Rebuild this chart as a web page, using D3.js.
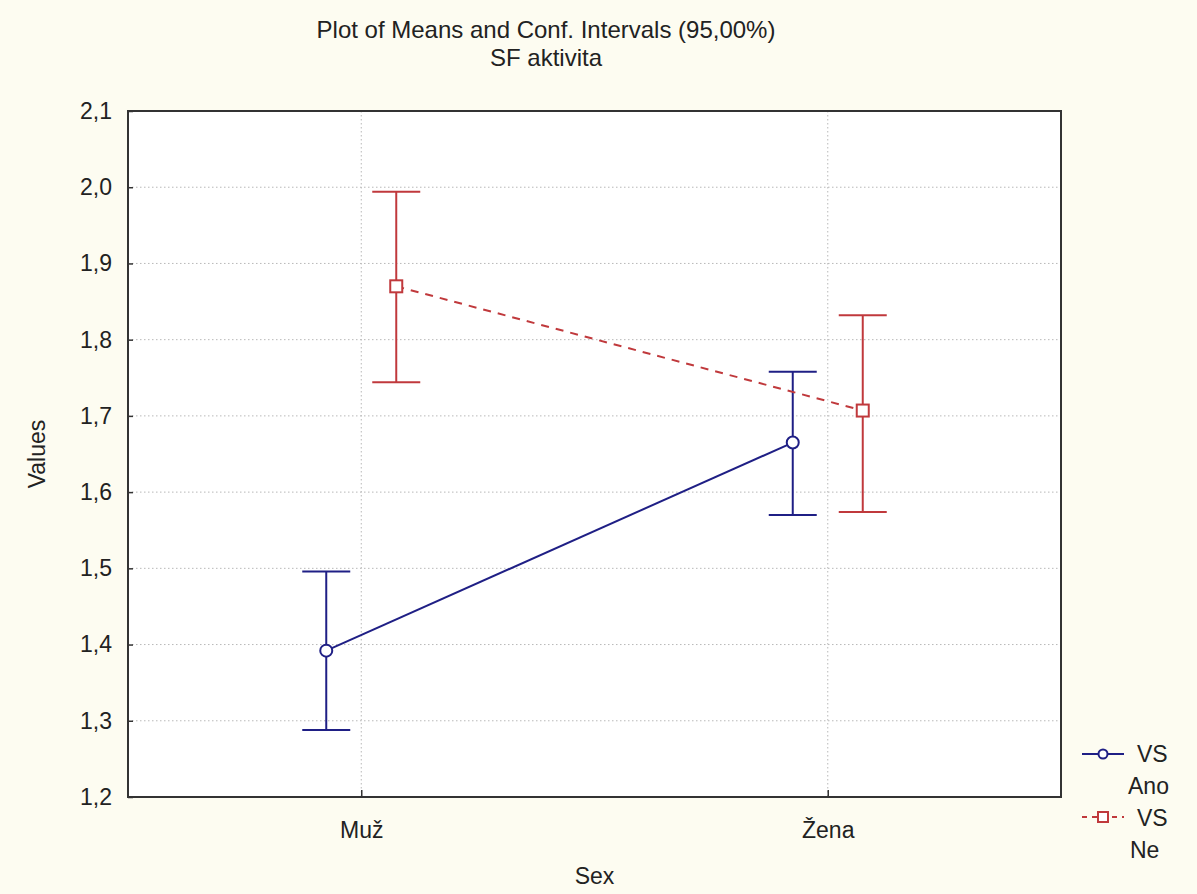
<!DOCTYPE html>
<html>
<head>
<meta charset="utf-8">
<script src="https://cdnjs.cloudflare.com/ajax/libs/d3/7.8.5/d3.min.js"></script>
<style>
  body { margin: 0; background: #fdfcf1; }
  svg text { font-family: "Liberation Sans", Arial, sans-serif; fill: #222; }
</style>
</head>
<body>
<svg id="chart" width="1197" height="894"></svg>
<script>
// categories on the x axis and the two VS groups
var categories = ["Muž", "Žena"];
var series = ["Ano", "Ne"];

// means and 95% conf. limits
var meanAno = [1.392, 1.665];
var lowAno  = [1.288, 1.570];
var highAno = [1.496, 1.758];

var meanNe = [1.870, 1.707];
var lowNe  = [1.744, 1.574];
var highNe = [1.994, 1.832];

var yTicks = [1.2, 1.3, 1.4, 1.5, 1.6, 1.7, 1.8, 1.9, 2.0, 2.1];

var svg = d3.select("#chart"),
    margin = {top: 111, right: 136, bottom: 97, left: 128},
    width = +svg.attr("width") - margin.left - margin.right,
    height = +svg.attr("height") - margin.top - margin.bottom;

var colors = {Ano: "#1f1f85", Ne: "#c0393c"};
var fontSize = 23;

var x = d3.scalePoint().domain(categories).range([0, width]).padding(0.5);
var offset = d3.scalePoint().domain(series).range([-35, 35]);
var y = d3.scaleLinear().domain([1.2, 2.1]).range([height, 0]);

var fmt = function (d) { return d3.format(".1f")(d).replace(".", ","); };

svg.append("rect")
    .attr("x", margin.left).attr("y", margin.top)
    .attr("width", width).attr("height", height)
    .attr("fill", "#ffffff");

var g = svg.append("g")
    .attr("transform", "translate(" + margin.left + "," + margin.top + ")");

// grid
g.append("g").selectAll("line")
    .data(yTicks.slice(1, -1))
    .enter().append("line")
    .attr("x1", 0).attr("x2", width)
    .attr("y1", function (d) { return y(d); })
    .attr("y2", function (d) { return y(d); })
    .attr("stroke", "#b8b8b8")
    .attr("stroke-dasharray", "1.5,2.5");

g.append("g").selectAll("line")
    .data(categories)
    .enter().append("line")
    .attr("x1", function (d) { return x(d); })
    .attr("x2", function (d) { return x(d); })
    .attr("y1", 0).attr("y2", height)
    .attr("stroke", "#b8b8b8")
    .attr("stroke-dasharray", "1.5,2.5");

// axes, ticks pointing inward
var yAxis = g.append("g")
    .call(d3.axisLeft(y).tickValues(yTicks).tickFormat(fmt).tickSizeInner(-5).tickSizeOuter(0).tickPadding(16));
var xAxis = g.append("g")
    .attr("transform", "translate(0," + height + ")")
    .call(d3.axisBottom(x).tickSizeInner(-7).tickSizeOuter(0).tickPadding(33));

[yAxis, xAxis].forEach(function (a) {
    a.select(".domain").remove();
    a.selectAll("line").attr("stroke", "#333").attr("stroke-width", 1.5);
    a.selectAll("text").attr("font-size", fontSize).attr("font-family", "Liberation Sans, Arial, sans-serif").attr("fill", "#222");
});
xAxis.selectAll("text").attr("dy", "0.35em");

// frame
g.append("rect")
    .attr("width", width).attr("height", height)
    .attr("fill", "none")
    .attr("stroke", "#333")
    .attr("stroke-width", 2);

var groups = [
    {name: "Ano", mean: meanAno, low: lowAno, high: highAno, dash: null},
    {name: "Ne", mean: meanNe, low: lowNe, high: highNe, dash: "8,7"}
];

var px = function (s, i) { return x(categories[i]) + offset(s); };

groups.forEach(function (s) {
    var c = colors[s.name];
    var line = d3.line()
        .x(function (d, i) { return px(s.name, i); })
        .y(function (d) { return y(d); });

    g.append("path")
        .datum(s.mean)
        .attr("d", line)
        .attr("fill", "none")
        .attr("stroke", c)
        .attr("stroke-width", 2)
        .attr("stroke-dasharray", s.dash);

    var bars = g.append("g").selectAll("g")
        .data(s.mean)
        .enter().append("g");

    bars.append("line")
        .attr("x1", function (d, i) { return px(s.name, i); })
        .attr("x2", function (d, i) { return px(s.name, i); })
        .attr("y1", function (d, i) { return y(s.low[i]); })
        .attr("y2", function (d, i) { return y(s.high[i]); })
        .attr("stroke", c).attr("stroke-width", 2);

    [s.low, s.high].forEach(function (lim) {
        bars.append("line")
            .attr("x1", function (d, i) { return px(s.name, i) - 24; })
            .attr("x2", function (d, i) { return px(s.name, i) + 24; })
            .attr("y1", function (d, i) { return y(lim[i]); })
            .attr("y2", function (d, i) { return y(lim[i]); })
            .attr("stroke", c).attr("stroke-width", 2);
    });

    if (s.name === "Ano") {
        bars.append("circle")
            .attr("cx", function (d, i) { return px(s.name, i); })
            .attr("cy", function (d) { return y(d); })
            .attr("r", 6)
            .attr("fill", "#fff").attr("stroke", c).attr("stroke-width", 2);
    } else {
        bars.append("rect")
            .attr("x", function (d, i) { return px(s.name, i) - 6; })
            .attr("y", function (d) { return y(d) - 6; })
            .attr("width", 12).attr("height", 12)
            .attr("fill", "#fff").attr("stroke", c).attr("stroke-width", 2);
    }
});

// titles
svg.append("text").attr("x", 546).attr("y", 38).attr("text-anchor", "middle")
    .attr("font-size", 24).text("Plot of Means and Conf. Intervals (95,00%)");
svg.append("text").attr("x", 546).attr("y", 66).attr("text-anchor", "middle")
    .attr("font-size", 24).text("SF aktivita");

svg.append("text")
    .attr("transform", "translate(45," + (margin.top + height / 2) + ") rotate(-90)")
    .attr("text-anchor", "middle").attr("font-size", fontSize).text("Values");
svg.append("text").attr("x", margin.left + width / 2).attr("y", 884)
    .attr("text-anchor", "middle").attr("font-size", fontSize).text("Sex");

// legend
var legend = svg.append("g").attr("transform", "translate(1082,0)");
var legRows = [
    {name: "Ano", y: 754, text: [["VS", 55, 762], ["Ano", 46, 794]]},
    {name: "Ne", y: 817, text: [["VS", 55, 826], ["Ne", 48, 858]]}
];
legRows.forEach(function (r) {
    var c = colors[r.name];
    legend.append("line")
        .attr("x1", 0).attr("x2", 42).attr("y1", r.y).attr("y2", r.y)
        .attr("stroke", c).attr("stroke-width", 2)
        .attr("stroke-dasharray", r.name === "Ne" ? "5,5" : null);
    if (r.name === "Ano") {
        legend.append("circle").attr("cx", 21).attr("cy", r.y).attr("r", 4.5)
            .attr("fill", "#fff").attr("stroke", c).attr("stroke-width", 2);
    } else {
        legend.append("rect").attr("x", 16).attr("y", r.y - 5).attr("width", 10).attr("height", 10)
            .attr("fill", "#fff").attr("stroke", c).attr("stroke-width", 2);
    }
    r.text.forEach(function (t) {
        legend.append("text").attr("x", t[1]).attr("y", t[2])
            .attr("font-size", fontSize).text(t[0]);
    });
});
</script>
</body>
</html>
